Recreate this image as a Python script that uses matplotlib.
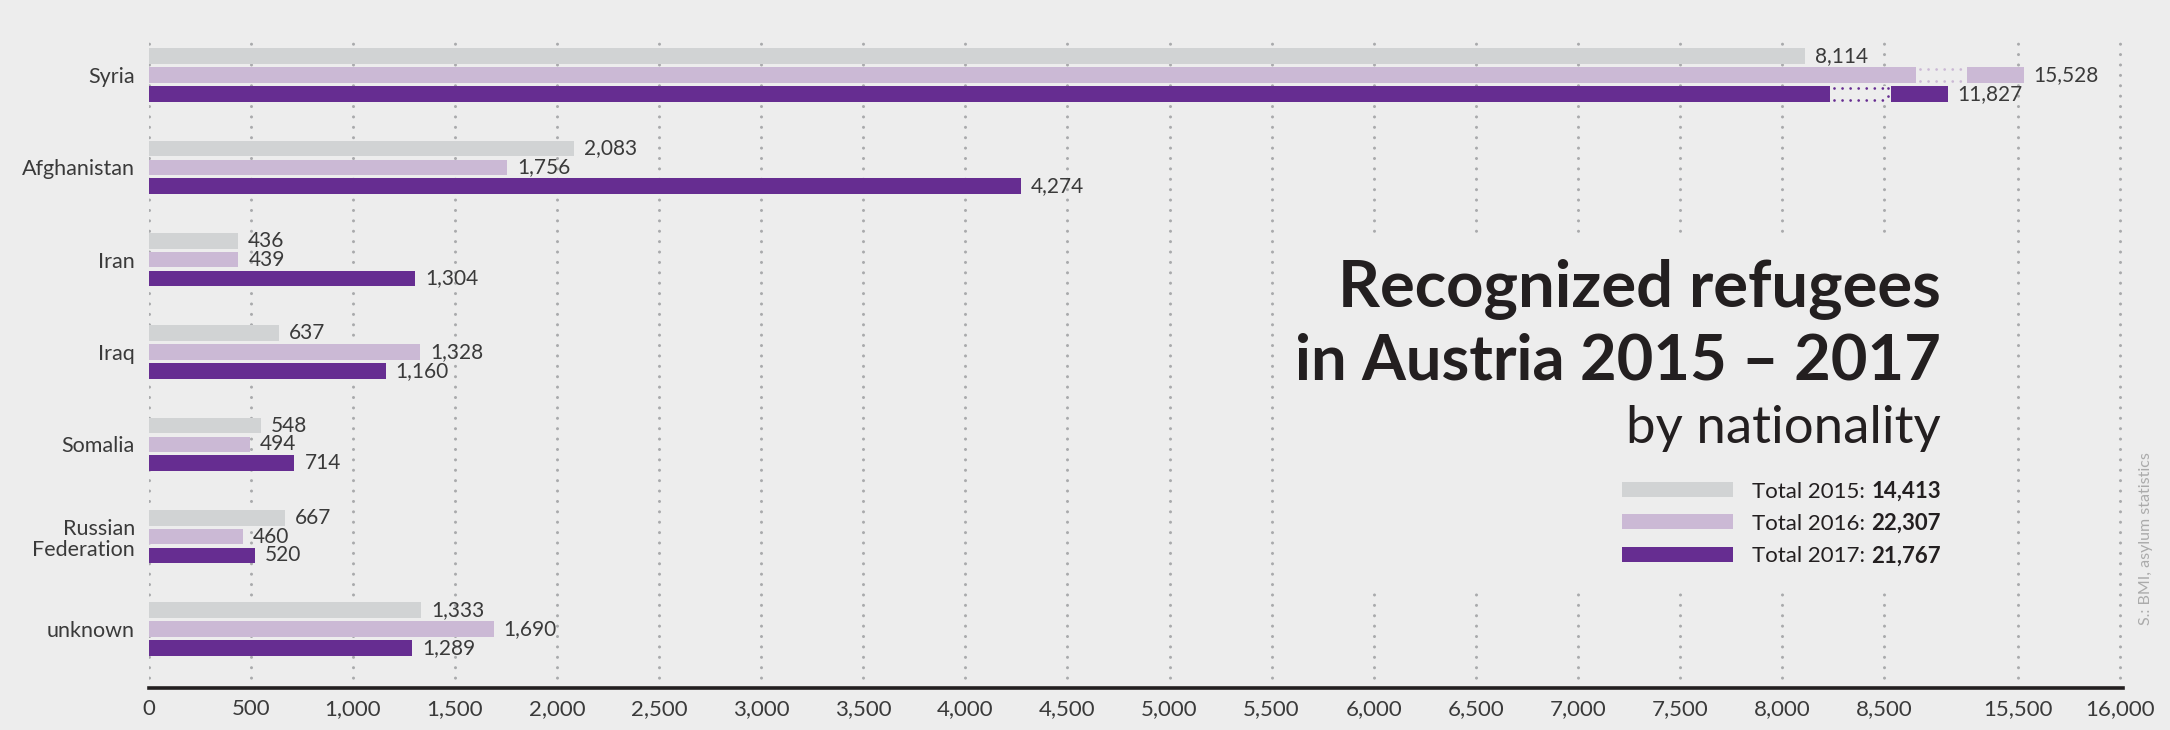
import numpy as np
import matplotlib
matplotlib.use("Agg")
import matplotlib.pyplot as plt
from matplotlib.patches import Rectangle

# --- data ---
countries = ["Syria", "Afghanistan", "Iran", "Iraq", "Somalia", "Russian\nFederation", "unknown"]
v2015 = [8114, 2083, 436, 637, 548, 667, 1333]
v2016 = [15528, 1756, 439, 1328, 494, 460, 1690]
v2017 = [11827, 4274, 1304, 1160, 714, 520, 1289]
years = ["2015", "2016", "2017"]
totals = ["14,413", "22,307", "21,767"]
tick_values = [0, 500, 1000, 1500, 2000, 2500, 3000, 3500, 4000, 4500, 5000,
               5500, 6000, 6500, 7000, 7500, 8000, 8500, 15500, 16000]

BG = "#EDEDED"
TXT = "#3A3A3A"
DARK = "#231F20"
colors = ["#D1D3D4", "#CBB9D5", "#662D91"]
FONT = "Lato"

W, H = 2170, 730

# broken x axis: 8,500 .. 15,500 squeezed into a short gap
BREAK_LO, BREAK_HI, GAP = 8500, 15500, 656


def squash(v):
    v = np.asarray(v, dtype=float)
    mid = BREAK_LO + (v - BREAK_LO) * GAP / (BREAK_HI - BREAK_LO)
    return np.where(v <= BREAK_LO, v, np.where(v >= BREAK_HI, v - (BREAK_HI - BREAK_LO) + GAP, mid))


fig = plt.figure(figsize=(W / 100, H / 100), dpi=100, facecolor=BG)
ax_l, ax_r, ax_t, ax_b = 148.7, 2123, 40, 688
ax = fig.add_axes([ax_l / W, 1 - ax_b / H, (ax_r - ax_l) / W, (ax_b - ax_t) / H])
ax.set_facecolor(BG)

px_per_unit = 102.08 / 500  # pixels per data unit on x
ax.set_xlim(0, (ax_r - ax_l) / px_per_unit)

y = np.arange(len(countries))
row_px = 92.33
ax.set_ylim(6 + (ax_b - 629) / row_px, -(75 - ax_t) / row_px)

pitch = 18.8 / row_px
bar_h = 15.6 / row_px
offsets = [-pitch, 0, pitch]
series = [v2015, v2016, v2017]

for vals, off, c in zip(series, offsets, colors):
    ax.barh(y + off, squash(vals), height=bar_h, color=c, zorder=2)
    for yi, v in zip(y, vals):
        ax.annotate(f"{v:,}", xy=(float(squash(v)), yi + off), xytext=(10, 0),
                    textcoords="offset pixels", va="center", ha="left",
                    fontsize=15, color=TXT, family=FONT, zorder=4)

# break marks on the Syria bars (x positions in axis units)
breaks = {1: (8656, 8906, False), 2: (8235, 8534, True)}
px = 1 / px_per_unit
for k, (x0, x1, edge) in breaks.items():
    yc = y[0] + offsets[k]
    ax.add_patch(Rectangle((x0, yc - bar_h / 2 - 0.005), x1 - x0, bar_h + 0.01,
                           facecolor=BG, edgecolor="none", zorder=3))
    dot = dict(color=colors[k], linewidth=2.0, linestyle=(0, (0.001, 2.9)),
               dash_capstyle="round", zorder=3.5)
    inset = 2 / row_px
    ax.plot([x0 + 4 * px, x1 - 3 * px], [yc - bar_h / 2 + inset] * 2, **dot)
    ax.plot([x0 + 4 * px, x1 - 3 * px], [yc + bar_h / 2 - inset] * 2, **dot)
    if edge:
        ax.plot([x1 - 3 * px] * 2, [yc - bar_h / 2 + inset, yc + bar_h / 2 - inset], **dot)

# axes styling
ax.set_xticks(squash(tick_values))
ax.set_xticklabels([f"{t:,}" for t in tick_values], fontsize=16, color=TXT, family=FONT)
ax.set_yticks(y)
ax.set_yticklabels(countries, fontsize=15.5, color=TXT, family=FONT)
for lab in ax.get_yticklabels():
    lab.set_linespacing(1.1)
ax.tick_params(axis="x", length=0, pad=8)
ax.tick_params(axis="y", length=0, pad=10)
for s in ["top", "right", "left"]:
    ax.spines[s].set_visible(False)
ax.spines["bottom"].set_color(DARK)
ax.spines["bottom"].set_linewidth(2.6)
ax.spines["bottom"].set_zorder(5)
ax.set_axisbelow(True)
ax.grid(axis="x", color="#A9AAAC", linestyle=(0, (0.001, 3.4)), linewidth=2.2,
        dash_capstyle="round")
ax.grid(axis="y", visible=False)

# plain box behind the title block hides the grid there
ax.add_patch(Rectangle((1290 / W, 1 - 590 / H), (1960 - 1290) / W, (590 - 239) / H,
                       transform=fig.transFigure, facecolor=BG, edgecolor="none",
                       zorder=1, clip_on=False))

# title block
right = 1941 / W
fig.text(right, 1 - 307 / H, "Recognized refugees", ha="right", va="baseline",
         fontsize=47, fontweight="bold", color=DARK, family=FONT)
fig.text(right, 1 - 380 / H, "in Austria 2015 \u2013 2017", ha="right", va="baseline",
         fontsize=45.5, fontweight="bold", color=DARK, family=FONT)
fig.text(right, 1 - 443 / H, "by nationality", ha="right", va="baseline",
         fontsize=38, fontweight="normal", color=DARK, family=FONT)

# legend: swatch, bold total right-aligned, label to its left
leg_y = [489.5, 521.5, 554.5]
fig.canvas.draw()
r = fig.canvas.get_renderer()
for yr, tot, c, ly in zip(years, totals, colors, leg_y):
    fig.patches.append(Rectangle((1622 / W, 1 - (ly + 7.5) / H), 111 / W, 15 / H,
                                 transform=fig.transFigure, facecolor=c,
                                 edgecolor="none", zorder=2))
    num = fig.text(right, 1 - ly / H, tot, ha="right", va="center_baseline",
                   fontsize=16, fontweight="bold", color=DARK, family=FONT)
    bb = num.get_window_extent(r)
    fig.text((bb.x0 - 6) / W, 1 - ly / H, f"Total {yr}:", ha="right",
             va="center_baseline", fontsize=16, color=DARK, family=FONT)

fig.text(2146 / W, 1 - 539 / H, "S.: BMI, asylum statistics", rotation=90,
         ha="center", va="center", fontsize=11.5, color="#ABABAB", family=FONT)

fig.savefig("out.png", dpi=100, facecolor=BG)
